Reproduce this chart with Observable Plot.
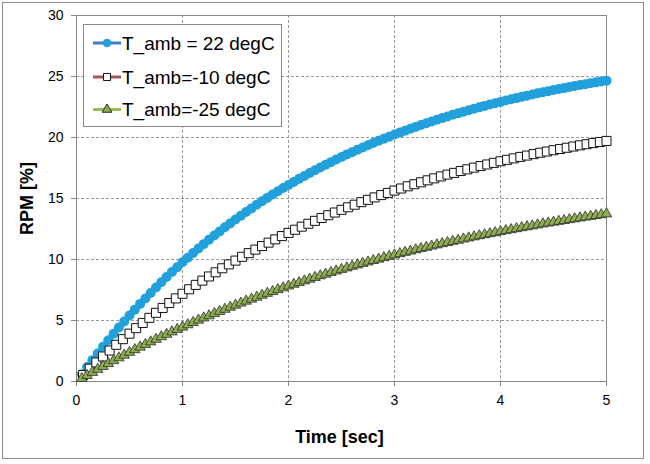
<!DOCTYPE html>
<html><head><meta charset="utf-8">
<script src="https://cdn.jsdelivr.net/npm/d3@7"></script>
<script src="https://cdn.jsdelivr.net/npm/@observablehq/plot@0.6"></script>
<style>
body{margin:0;background:#fff;}
#wrap{position:relative;width:650px;height:464px;}
#border{position:absolute;left:2px;top:2px;width:640px;height:455px;border:1px solid #8c8c8c;pointer-events:none;}
</style></head><body><div id="wrap"><div id="border"></div></div>
<script>
const seriesNames = ["T_amb = 22 degC", "T_amb=-10 degC", "T_amb=-25 degC"];
const xTicks = [0, 1, 2, 3, 4, 5];
const yTicks = [0, 5, 10, 15, 20, 25, 30];

const time05 = [0.05,0.1,0.15,0.2,0.25,0.3,0.35,0.4,0.45,0.5,
0.55,0.6,0.65,0.7,0.75,0.8,0.85,0.9,0.95,1.0,
1.05,1.1,1.15,1.2,1.25,1.3,1.35,1.4,1.45,1.5,
1.55,1.6,1.65,1.7,1.75,1.8,1.85,1.9,1.95,2.0,
2.05,2.1,2.15,2.2,2.25,2.3,2.35,2.4,2.45,2.5,
2.55,2.6,2.65,2.7,2.75,2.8,2.85,2.9,2.95,3.0,
3.05,3.1,3.15,3.2,3.25,3.3,3.35,3.4,3.45,3.5,
3.55,3.6,3.65,3.7,3.75,3.8,3.85,3.9,3.95,4.0,
4.05,4.1,4.15,4.2,4.25,4.3,4.35,4.4,4.45,4.5,
4.55,4.6,4.65,4.7,4.75,4.8,4.85,4.9,4.95,5.0];

const time0625 = [0.0625,0.125,0.1875,0.25,0.3125,0.375,0.4375,0.5,
0.5625,0.625,0.6875,0.75,0.8125,0.875,0.9375,1.0,
1.0625,1.125,1.1875,1.25,1.3125,1.375,1.4375,1.5,
1.5625,1.625,1.6875,1.75,1.8125,1.875,1.9375,2.0,
2.0625,2.125,2.1875,2.25,2.3125,2.375,2.4375,2.5,
2.5625,2.625,2.6875,2.75,2.8125,2.875,2.9375,3.0,
3.0625,3.125,3.1875,3.25,3.3125,3.375,3.4375,3.5,
3.5625,3.625,3.6875,3.75,3.8125,3.875,3.9375,4.0,
4.0625,4.125,4.1875,4.25,4.3125,4.375,4.4375,4.5,
4.5625,4.625,4.6875,4.75,4.8125,4.875,4.9375,5.0];

const rpm22 = [0.60,1.18,1.75,2.30,2.85,3.38,3.91,4.42,4.92,5.41,
5.89,6.36,6.81,7.26,7.70,8.13,8.56,8.97,9.37,9.77,
10.15,10.53,10.90,11.26,11.62,11.96,12.30,12.64,12.96,13.28,
13.59,13.90,14.19,14.49,14.77,15.05,15.33,15.59,15.86,16.11,
16.36,16.61,16.85,17.09,17.32,17.54,17.76,17.98,18.19,18.40,
18.60,18.80,18.99,19.18,19.37,19.55,19.73,19.90,20.07,20.24,
20.40,20.56,20.72,20.87,21.02,21.17,21.31,21.45,21.59,21.72,
21.86,21.98,22.11,22.23,22.35,22.47,22.59,22.70,22.81,22.92,
23.03,23.13,23.23,23.33,23.43,23.52,23.62,23.71,23.80,23.89,
23.97,24.05,24.14,24.22,24.30,24.37,24.45,24.52,24.59,24.66];

const rpmM10 = [0.53,1.05,1.56,2.05,2.54,3.01,3.47,3.92,
4.37,4.80,5.22,5.63,6.03,6.43,6.81,7.19,
7.56,7.92,8.27,8.61,8.95,9.28,9.60,9.91,
10.22,10.52,10.81,11.10,11.38,11.65,11.92,12.18,
12.44,12.69,12.93,13.17,13.40,13.63,13.85,14.07,
14.28,14.49,14.70,14.89,15.09,15.28,15.46,15.65,
15.82,16.00,16.17,16.33,16.49,16.65,16.81,16.96,
17.10,17.25,17.39,17.53,17.66,17.79,17.92,18.05,
18.17,18.29,18.41,18.52,18.64,18.75,18.85,18.96,
19.06,19.16,19.26,19.36,19.45,19.54,19.63,19.72];

const rpmM25 = [0.25,0.50,0.75,1.00,1.24,1.47,1.71,1.94,2.16,2.39,
2.61,2.82,3.04,3.25,3.46,3.67,3.87,4.07,4.27,4.46,
4.65,4.84,5.03,5.21,5.39,5.57,5.75,5.92,6.09,6.26,
6.43,6.59,6.75,6.91,7.07,7.23,7.38,7.53,7.68,7.83,
7.97,8.11,8.25,8.39,8.53,8.67,8.80,8.93,9.06,9.19,
9.31,9.44,9.56,9.68,9.80,9.92,10.03,10.15,10.26,10.37,
10.48,10.59,10.69,10.80,10.90,11.00,11.10,11.20,11.30,11.39,
11.49,11.58,11.68,11.77,11.86,11.95,12.03,12.12,12.20,12.29,
12.37,12.45,12.53,12.61,12.69,12.76,12.84,12.92,12.99,13.06,
13.13,13.20,13.27,13.34,13.41,13.48,13.54,13.61,13.67,13.74];

const s1 = time05.map((t, i) => ({t, v: rpm22[i]}));
const s2 = time0625.map((t, i) => ({t, v: rpmM10[i]}));
const s3 = time05.map((t, i) => ({t, v: rpmM25[i]}));

const C = {
  blueDot: "#21A0DC", blueLine: "#3D7FC1",
  redLine: "#A65656",
  greenLine: "#9BBB59", greenFill: "#8FAE52", triEdge: "#2b2b2b",
  frame: "#878787", grid: "#9a9a9a"
};
const font = "Arial, 'Liberation Sans', sans-serif";

const chart = Plot.plot({
  width: 650, height: 464,
  marginLeft: 76, marginRight: 44, marginTop: 15, marginBottom: 83,
  style: {fontFamily: font, fontSize: "14px", color: "#000", background: "transparent"},
  x: {domain: [0, 5]},
  y: {domain: [0, 30]},
  marks: [
    Plot.gridX(xTicks, {stroke: C.grid, strokeOpacity: 1, strokeDasharray: "3,2"}),
    Plot.gridY(yTicks, {stroke: C.grid, strokeOpacity: 1, strokeDasharray: "3,2"}),
    Plot.frame({stroke: C.frame}),
    Plot.axisX(xTicks, {tickSize: 5, tickPadding: 9, label: null, stroke: C.frame}),
    Plot.axisY(yTicks, {tickSize: 5, tickPadding: 8, label: null, stroke: C.frame}),
    Plot.line(s1, {x: "t", y: "v", stroke: C.blueDot, strokeWidth: 3}),
    Plot.dot(s1, {x: "t", y: "v", r: 5, fill: C.blueDot}),
    Plot.line(s2, {x: "t", y: "v", stroke: C.redLine, strokeWidth: 2}),
    Plot.dot(s2, {x: "t", y: "v", symbol: "square", r: 5.1, fill: "#fff", stroke: "#111", strokeWidth: 1}),
    Plot.line(s3, {x: "t", y: "v", stroke: C.greenLine, strokeWidth: 2}),
    Plot.dot(s3, {x: "t", y: "v", symbol: "triangle", r: 3.9, fill: C.greenFill, stroke: C.triEdge, strokeWidth: 0.8}),
    Plot.text(["Time [sec]"], {text: d => d, frameAnchor: "bottom", dy: 61, dx: -2, fontWeight: "bold", fontSize: 18, textAnchor: "middle"}),
    Plot.text(["RPM [%]"], {text: d => d, frameAnchor: "left", rotate: -90, dx: -49, fontWeight: "bold", fontSize: 18, textAnchor: "middle"})
  ]
});
document.getElementById("wrap").prepend(chart);

// legend
const svg = d3.select(chart);
const lg = svg.append("g").attr("text-anchor", "start");
lg.append("rect").attr("x", 83.5).attr("y", 24.5).attr("width", 198).attr("height", 102)
  .attr("fill", "#fff").attr("stroke", C.frame);
const rows = [
  {y: 43, line: C.blueLine, sym: d3.symbolCircle, size: Math.PI * 4.2 * 4.2, fill: C.blueDot, stroke: "none"},
  {y: 77, line: C.redLine, sym: d3.symbolSquare, size: 50, fill: "#fff", stroke: "#111"},
  {y: 109.5, line: C.greenLine, sym: d3.symbolTriangle, size: 40, fill: C.greenFill, stroke: C.triEdge}
];
rows.forEach((r, i) => {
  lg.append("line").attr("x1", 93).attr("x2", 121).attr("y1", r.y).attr("y2", r.y)
    .attr("stroke", r.line).attr("stroke-width", 3);
  lg.append("path").attr("d", d3.symbol(r.sym, r.size)())
    .attr("transform", `translate(107,${r.y})`).attr("fill", r.fill).attr("stroke", r.stroke).attr("stroke-width", 1);
  lg.append("text").attr("x", 122).attr("y", r.y).attr("dy", "0.35em")
    .attr("text-anchor", "start")
    .attr("font-family", font).attr("font-size", 19).attr("fill", "#000")
    .text(seriesNames[i]);
});
</script></body></html>
